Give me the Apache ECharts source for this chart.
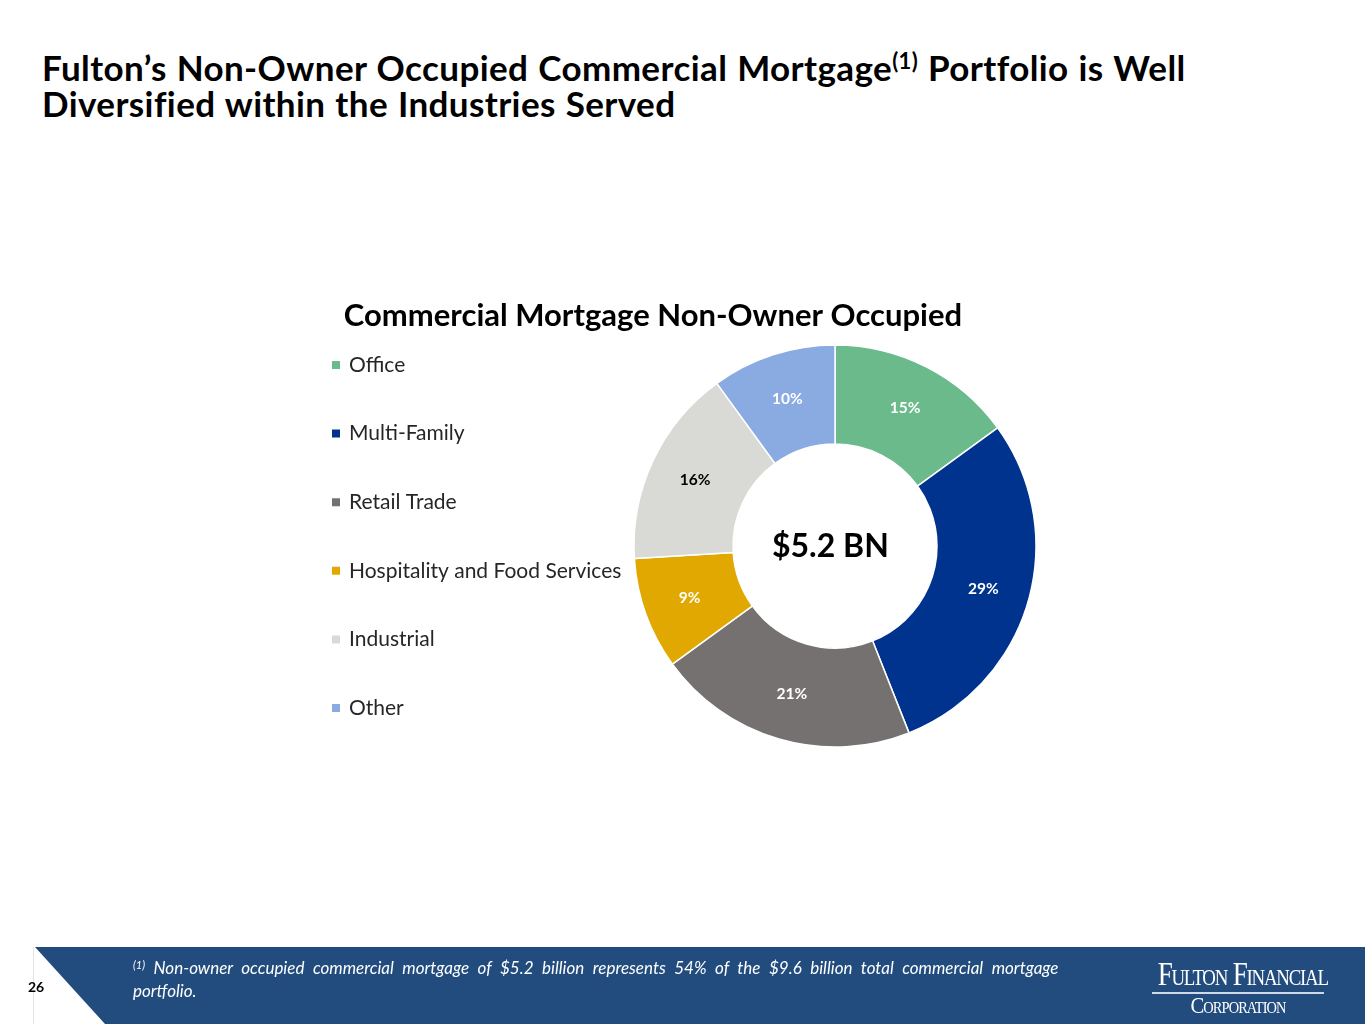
<!DOCTYPE html>
<html>
<head>
<meta charset="utf-8">
<title>Commercial Mortgage Non-Owner Occupied</title>
<script src="https://cdn.jsdelivr.net/npm/echarts@6/dist/echarts.min.js"></script>
<style>
	html, body { margin:0; padding:0; background:#fff; }
	body { width:1365px; height:1024px; position:relative; overflow:hidden; font-family:Lato, "Open Sans", sans-serif; }
	#myChart { position:absolute; left:0; top:0; width:1365px; height:1024px; }
	.page-title { position:absolute; left:42px; top:49px; font-size:35px; font-weight:bold; line-height:36px; color:#000; letter-spacing:0.4px; word-spacing:1px; white-space:nowrap; }
	.page-title sup { font-size:22px; vertical-align:12px; line-height:0; }
	.footer { position:absolute; left:0; top:947px; width:1365px; height:77px; background:#214c7d;
		clip-path:polygon(35px 0, 1365px 0, 1365px 77px, 105px 77px); }
	.left-rule { position:absolute; left:33px; top:947px; width:1px; height:77px; background:#e4e4e4; }
	.page-no { position:absolute; left:28px; top:978px; font-size:14px; font-weight:bold; color:#000; }
	.note { position:absolute; left:133px; top:956px; width:960px; font-size:17px; font-style:italic; color:#fff; line-height:23px; word-spacing:4.5px; white-space:nowrap; }
	.note sup { font-size:11px; vertical-align:5px; line-height:0; }
	.logo { position:absolute; left:1140px; top:957px; width:196px; text-align:center; color:#fff; font-family:"Liberation Serif", "DejaVu Serif", serif; }
	.logo .l1 { font-size:33px; font-variant:small-caps; letter-spacing:-1.5px; line-height:34px; transform:scaleX(0.82); white-space:nowrap; }
	.logo .rule { height:2px; background:#cfd8e6; margin:1px 12px 2px 12px; }
	.logo .l2 { font-size:23px; font-variant:small-caps; letter-spacing:-1px; line-height:20px; transform:scaleX(0.9); }
</style>
</head>
<body>
<div class="page-title">Fulton’s Non-Owner Occupied Commercial Mortgage<sup>(1)</sup> Portfolio is Well<br>Diversified within the Industries Served</div>

<div id="myChart"></div>

<div class="left-rule"></div>
<div class="footer"></div>
<div class="page-no">26</div>
<div class="note"><sup>(1)</sup> Non-owner occupied commercial mortgage of $5.2 billion represents 54% of the $9.6 billion total commercial mortgage<br>portfolio.</div>
<div class="logo">
	<div class="l1">Fulton Financial</div>
	<div class="rule"></div>
	<div class="l2">Corporation</div>
</div>

<script type='text/javascript'>
//数据
var categories = ['Office', 'Multi-Family', 'Retail Trade', 'Hospitality and Food Services', 'Industrial', 'Other'];
var shares     = [15, 29, 21, 9, 16, 10];
var colors     = ['#6bba8b', '#00338d', '#767171', '#e0a800', '#d9d9d6', '#8aaae2'];
var labelColors = ['#fff', '#fff', '#fff', '#fff', '#000', '#fff'];
var totalText  = '$5.2 BN';

var pieData = categories.map(function(name, i)
{
	return {
		name: name,
		value: shares[i],
		itemStyle: { color: colors[i] },
		label: { color: labelColors[i] }
	};
});

var option = {
	animation: false,
	title:
	{
		text: 'Commercial Mortgage Non-Owner Occupied',
		left: 653,
		textAlign: 'center',
		top: 300,
		padding: 0,
		textStyle: { fontFamily: 'Lato', fontSize: 31, fontWeight: 'bold', color: '#000' }
	},
	legend:
	{
		orient: 'vertical',
		left: 330,
		top: 354.5,
		padding: 0,
		itemWidth: 10,
		itemHeight: 10,
		itemGap: 47.6,
		icon: 'rect',
		data: categories,
		textStyle: { fontFamily: 'Lato', fontSize: 21, color: '#262626', padding: [0, 0, 0, 3] }
	},
	graphic:
	[
		{
			type: 'text',
			left: 772,
			top: 531,
			style: { text: totalText, fontFamily: 'Lato', fontSize: 32, fontWeight: 'bold', fill: '#000' }
		}
	],
	series:
	[
		{
			type: 'pie',
			center: [835, 546],
			radius: [102, 201],
			startAngle: 90,
			clockwise: true,
			itemStyle: { borderColor: '#fff', borderWidth: 1.5 },
			label:
			{
				show: true,
				position: 'inside',
				formatter: '{c}%',
				fontFamily: 'Lato',
				fontSize: 15.5,
				fontWeight: 'bold'
			},
			labelLine: { show: false },
			emphasis: { disabled: true },
			data: pieData
		}
	]
};
echarts.init(document.getElementById('myChart')).setOption(option);
</script>
</body>
</html>
